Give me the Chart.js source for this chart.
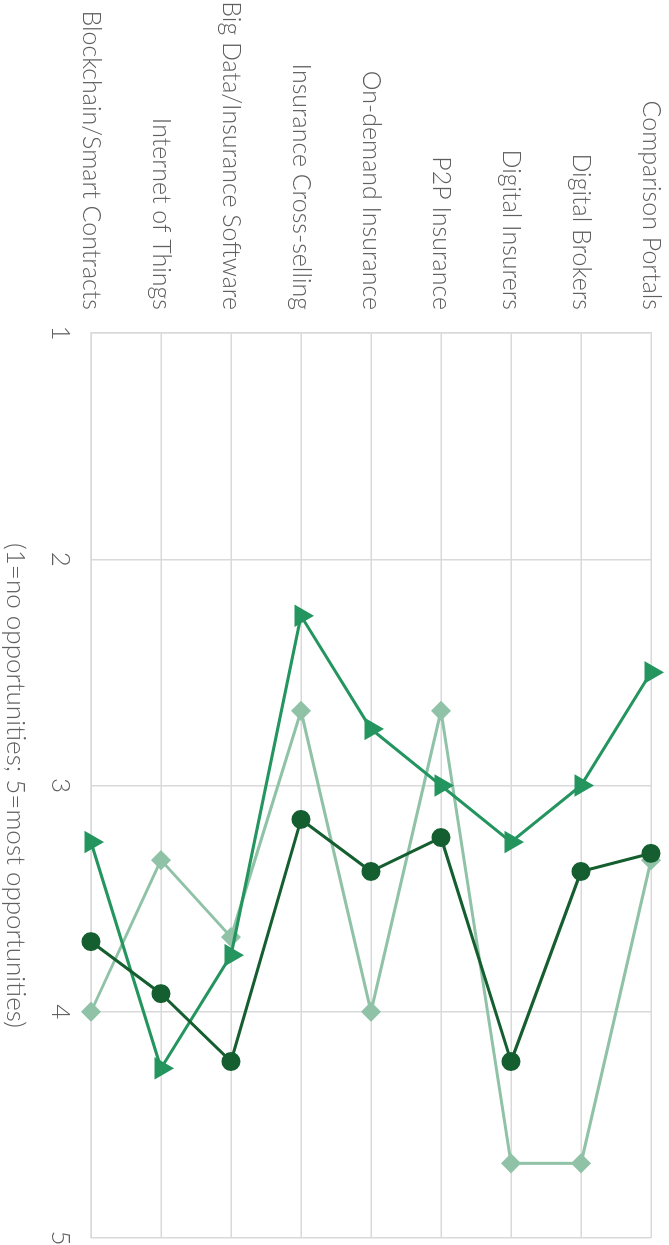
<!DOCTYPE html>
<html>
<head>
<meta charset="utf-8">
<script src="https://cdn.jsdelivr.net/npm/chart.js@4/dist/chart.umd.min.js"></script>
<style>
html,body{margin:0;padding:0;background:#fff;overflow:hidden;width:669px;height:1245px;}
#wrap{position:absolute;left:0;top:0;width:1245px;height:669px;transform-origin:0 0;transform:translate(669px,0) rotate(90deg);}
</style>
</head>
<body>
<div id="wrap"><canvas id="c" width="1245" height="669"></canvas></div>
<script>
const categories = ['Comparison Portals','Digital Brokers','Digital Insurers','P2P Insurance','On-demand Insurance','Insurance Cross-selling','Big Data/Insurance Software','Internet of Things','Blockchain/Smart Contracts'];
const seriesDark = [3.30, 3.38, 4.22, 3.23, 3.38, 3.15, 4.22, 3.92, 3.69];
const seriesMedium = [2.50, 3.00, 3.25, 3.00, 2.75, 2.25, 3.75, 4.25, 3.25];
const seriesLight = [3.33, 4.67, 4.67, 2.67, 4.00, 2.67, 3.67, 3.33, 4.00];
const valueTicks = [1, 2, 3, 4, 5];
const axisTitle = '(1=no opportunities; 5=most opportunities)';

const textColor = '#5f5f5f';
const gridColor = '#d9d9d9';
Chart.defaults.font.family = "Lato, 'Open Sans', sans-serif";
Chart.defaults.font.weight = 300;
Chart.defaults.color = textColor;

new Chart(document.getElementById('c'), {
  type: 'line',
  data: {
    labels: categories,
    datasets: [
      {data: seriesDark, borderColor: '#155e30', backgroundColor: '#155e30', borderWidth: 3, pointStyle: 'circle', pointRadius: 8, pointHoverRadius: 8, order: 1},
      {data: seriesMedium, borderColor: '#24955f', backgroundColor: '#24955f', borderWidth: 3, pointStyle: 'triangle', pointRadius: 10, pointHoverRadius: 10, order: 2},
      {data: seriesLight, borderColor: '#8fc2a7', backgroundColor: '#8fc2a7', borderWidth: 3, pointStyle: 'rectRot', pointRadius: 8, pointHoverRadius: 8, order: 3}
    ]
  },
  options: {
    indexAxis: 'y',
    responsive: false,
    animation: false,
    layout: {autoPadding: false, padding: {top: 18, right: 7, bottom: 0, left: 0}},
    plugins: {legend: {display: false}, tooltip: {enabled: false}},
    scales: {
      y: {
        type: 'category',
        offset: false,
        grid: {color: gridColor, lineWidth: 1.5, drawTicks: false},
        border: {color: gridColor, width: 1.5},
        ticks: {padding: 23, font: {size: 25}, color: textColor},
        afterFit: s => { s.width = 333; s.paddingTop = 0; s.paddingBottom = 0; }
      },
      x: {
        type: 'linear',
        min: 1, max: 5,
        afterBuildTicks: s => { s.ticks = valueTicks.map(v => ({value: v})); },
        grid: {color: gridColor, lineWidth: 1.5, drawTicks: false},
        border: {color: gridColor, width: 1.5},
        ticks: {padding: 15, font: {size: 26}, color: textColor},
        title: {display: true, text: axisTitle, font: {size: 26}, color: textColor, padding: {top: 10, bottom: 0}},
        afterFit: s => { s.height = 91; s.paddingLeft = 0; s.paddingRight = 0; }
      }
    }
  }
});
</script>
</body>
</html>
